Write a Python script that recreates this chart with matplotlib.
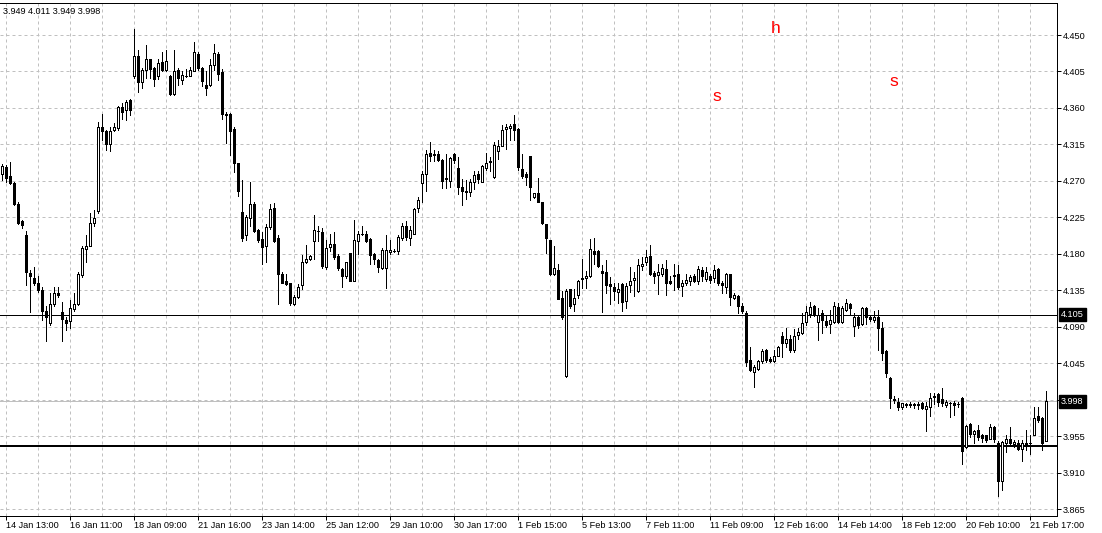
import matplotlib
matplotlib.use("Agg")
import matplotlib.pyplot as plt
import matplotlib.transforms as mtransforms

plt.rcParams['font.family'] = ['Liberation Sans', 'DejaVu Sans']

# ---------------- data (OHLC per bar) ----------------
open_ = [
    4.279, 4.287, 4.276, 4.267, 4.241, 4.220, 4.203, 4.156, 4.150, 4.144,
    4.135, 4.109, 4.094, 4.118, 4.131, 4.108, 4.098, 4.097, 4.112, 4.118,
    4.154, 4.186, 4.190, 4.218, 4.233, 4.336, 4.331, 4.316, 4.333, 4.335,
    4.361, 4.357, 4.370, 4.399, 4.424, 4.392, 4.407, 4.420, 4.409, 4.399,
    4.417, 4.407, 4.399, 4.377, 4.407, 4.394, 4.399, 4.399, 4.406, 4.427,
    4.409, 4.388, 4.388, 4.413, 4.426, 4.404, 4.353, 4.353, 4.334, 4.292,
    4.231, 4.203, 4.224, 4.242, 4.209, 4.198, 4.189, 4.213, 4.236, 4.199,
    4.155, 4.146, 4.144, 4.118, 4.127, 4.141, 4.170, 4.174, 4.196, 4.208,
    4.207, 4.164, 4.188, 4.192, 4.177, 4.161, 4.153, 4.181, 4.147, 4.196,
    4.204, 4.205, 4.198, 4.180, 4.172, 4.162, 4.162, 4.182, 4.184, 4.184,
    4.200, 4.214, 4.200, 4.205, 4.236, 4.267, 4.279, 4.305, 4.302, 4.303,
    4.296, 4.272, 4.270, 4.303, 4.286, 4.262, 4.258, 4.256, 4.269, 4.278,
    4.269, 4.286, 4.293, 4.275, 4.307, 4.313, 4.334, 4.335, 4.340, 4.334,
    4.285, 4.279, 4.301, 4.250, 4.255, 4.244, 4.217, 4.197, 4.155, 4.160,
    4.125, 4.029, 4.136, 4.118, 4.129, 4.149, 4.150, 4.152, 4.183, 4.184,
    4.159, 4.158, 4.143, 4.139, 4.133, 4.143, 4.122, 4.141, 4.148, 4.134,
    4.165, 4.170, 4.177, 4.156, 4.154, 4.155, 4.161, 4.146, 4.153, 4.155,
    4.140, 4.144, 4.147, 4.153, 4.146, 4.160, 4.149, 4.153, 4.150, 4.161,
    4.144, 4.139, 4.155, 4.126, 4.128, 4.116, 4.107, 4.049, 4.034, 4.038,
    4.048, 4.061, 4.050, 4.048, 4.054, 4.079, 4.070, 4.075, 4.061, 4.080,
    4.082, 4.096, 4.106, 4.116, 4.096, 4.107, 4.097, 4.093, 4.096, 4.114,
    4.096, 4.111, 4.118, 4.091, 4.102, 4.093, 4.113, 4.102, 4.098, 4.102,
    4.088, 4.060, 4.027, 4.001, 3.997, 3.991, 3.995, 3.994, 3.995, 3.994,
    3.996, 3.988, 3.991, 4.005, 4.007, 4.001, 3.993, 3.996, 3.996, 3.995,
    4.002, 3.941, 3.970, 3.957, 3.963, 3.956, 3.956, 3.952, 3.966, 3.947,
    3.900, 3.947, 3.952, 3.945, 3.946, 3.939, 3.947, 3.946, 3.956, 3.980,
    3.977, 3.949,
]
high = [
    4.291, 4.290, 4.293, 4.268, 4.244, 4.222, 4.208, 4.160, 4.164, 4.153,
    4.139, 4.115, 4.131, 4.139, 4.139, 4.121, 4.102, 4.123, 4.131, 4.158,
    4.190, 4.203, 4.230, 4.234, 4.343, 4.353, 4.333, 4.337, 4.342, 4.362,
    4.366, 4.370, 4.371, 4.458, 4.432, 4.409, 4.438, 4.421, 4.411, 4.420,
    4.429, 4.431, 4.401, 4.432, 4.409, 4.405, 4.408, 4.411, 4.441, 4.429,
    4.411, 4.405, 4.421, 4.439, 4.429, 4.408, 4.355, 4.354, 4.337, 4.292,
    4.271, 4.228, 4.269, 4.244, 4.211, 4.207, 4.217, 4.242, 4.243, 4.203,
    4.158, 4.155, 4.144, 4.129, 4.143, 4.178, 4.191, 4.179, 4.228, 4.214,
    4.212, 4.197, 4.205, 4.207, 4.180, 4.162, 4.170, 4.181, 4.222, 4.208,
    4.214, 4.208, 4.200, 4.181, 4.173, 4.187, 4.203, 4.197, 4.186, 4.203,
    4.218, 4.220, 4.214, 4.237, 4.250, 4.282, 4.308, 4.318, 4.308, 4.307,
    4.297, 4.303, 4.300, 4.304, 4.300, 4.272, 4.271, 4.272, 4.282, 4.282,
    4.290, 4.304, 4.300, 4.318, 4.320, 4.339, 4.340, 4.340, 4.351, 4.335,
    4.303, 4.281, 4.301, 4.255, 4.274, 4.244, 4.217, 4.197, 4.190, 4.167,
    4.134, 4.137, 4.137, 4.136, 4.148, 4.174, 4.159, 4.198, 4.200, 4.185,
    4.166, 4.172, 4.151, 4.144, 4.144, 4.144, 4.144, 4.164, 4.158, 4.173,
    4.176, 4.185, 4.191, 4.159, 4.168, 4.168, 4.172, 4.153, 4.168, 4.166,
    4.148, 4.155, 4.154, 4.155, 4.165, 4.164, 4.164, 4.155, 4.166, 4.162,
    4.147, 4.156, 4.155, 4.131, 4.129, 4.119, 4.109, 4.065, 4.043, 4.049,
    4.063, 4.063, 4.053, 4.061, 4.066, 4.084, 4.089, 4.080, 4.087, 4.088,
    4.107, 4.115, 4.120, 4.117, 4.113, 4.111, 4.105, 4.111, 4.120, 4.119,
    4.115, 4.124, 4.119, 4.107, 4.103, 4.114, 4.114, 4.104, 4.109, 4.111,
    4.096, 4.061, 4.028, 4.004, 4.002, 3.996, 3.996, 3.997, 3.996, 3.997,
    3.997, 3.997, 4.008, 4.008, 4.008, 4.014, 4.000, 3.997, 3.998, 3.997,
    4.003, 3.969, 3.971, 3.963, 3.969, 3.957, 3.956, 3.970, 3.967, 3.949,
    3.949, 3.956, 3.966, 3.950, 3.950, 3.950, 3.962, 3.956, 3.991, 3.991,
    3.978, 4.011,
]
low = [
    4.271, 4.269, 4.266, 4.240, 4.217, 4.212, 4.141, 4.108, 4.142, 4.133,
    4.098, 4.072, 4.092, 4.116, 4.127, 4.072, 4.086, 4.088, 4.109, 4.117,
    4.151, 4.170, 4.189, 4.214, 4.230, 4.320, 4.308, 4.307, 4.331, 4.333,
    4.346, 4.345, 4.351, 4.397, 4.380, 4.384, 4.397, 4.397, 4.387, 4.396,
    4.405, 4.405, 4.376, 4.376, 4.388, 4.390, 4.398, 4.399, 4.405, 4.407,
    4.387, 4.376, 4.387, 4.407, 4.395, 4.346, 4.317, 4.302, 4.281, 4.251,
    4.196, 4.197, 4.214, 4.207, 4.195, 4.167, 4.170, 4.211, 4.195, 4.118,
    4.144, 4.141, 4.117, 4.117, 4.126, 4.136, 4.169, 4.172, 4.173, 4.196,
    4.163, 4.161, 4.184, 4.174, 4.160, 4.139, 4.150, 4.146, 4.146, 4.180,
    4.203, 4.195, 4.167, 4.168, 4.158, 4.161, 4.138, 4.180, 4.182, 4.180,
    4.197, 4.197, 4.191, 4.205, 4.231, 4.244, 4.257, 4.294, 4.295, 4.294,
    4.261, 4.261, 4.263, 4.292, 4.254, 4.240, 4.248, 4.251, 4.260, 4.267,
    4.268, 4.283, 4.282, 4.274, 4.297, 4.313, 4.309, 4.320, 4.320, 4.283,
    4.273, 4.265, 4.246, 4.249, 4.244, 4.217, 4.181, 4.154, 4.154, 4.124,
    4.100, 4.028, 4.113, 4.109, 4.126, 4.138, 4.138, 4.151, 4.167, 4.164,
    4.108, 4.131, 4.118, 4.123, 4.119, 4.109, 4.113, 4.133, 4.128, 4.133,
    4.160, 4.166, 4.154, 4.144, 4.130, 4.152, 4.129, 4.143, 4.135, 4.137,
    4.128, 4.142, 4.142, 4.145, 4.143, 4.146, 4.146, 4.144, 4.145, 4.141,
    4.131, 4.131, 4.117, 4.124, 4.107, 4.107, 4.041, 4.035, 4.016, 4.037,
    4.045, 4.046, 4.047, 4.047, 4.054, 4.053, 4.065, 4.059, 4.059, 4.075,
    4.081, 4.092, 4.102, 4.103, 4.073, 4.082, 4.090, 4.082, 4.095, 4.095,
    4.095, 4.110, 4.105, 4.078, 4.088, 4.092, 4.093, 4.097, 4.096, 4.061,
    4.049, 4.028, 3.990, 3.996, 3.987, 3.989, 3.991, 3.991, 3.990, 3.989,
    3.989, 3.961, 3.980, 3.995, 3.992, 3.992, 3.991, 3.978, 3.981, 3.991,
    3.920, 3.940, 3.954, 3.947, 3.950, 3.948, 3.948, 3.951, 3.948, 3.881,
    3.889, 3.936, 3.945, 3.941, 3.938, 3.924, 3.938, 3.933, 3.956, 3.973,
    3.938, 3.949,
]
close = [
    4.288, 4.273, 4.267, 4.241, 4.218, 4.216, 4.158, 4.152, 4.144, 4.135,
    4.110, 4.102, 4.118, 4.132, 4.129, 4.099, 4.094, 4.113, 4.118, 4.155,
    4.187, 4.189, 4.218, 4.224, 4.337, 4.332, 4.316, 4.331, 4.336, 4.361,
    4.355, 4.367, 4.358, 4.424, 4.392, 4.407, 4.420, 4.408, 4.396, 4.415,
    4.407, 4.418, 4.377, 4.406, 4.397, 4.401, 4.400, 4.407, 4.429, 4.409,
    4.393, 4.385, 4.413, 4.428, 4.402, 4.353, 4.351, 4.332, 4.292, 4.257,
    4.200, 4.225, 4.242, 4.208, 4.197, 4.188, 4.213, 4.235, 4.196, 4.155,
    4.144, 4.143, 4.119, 4.127, 4.139, 4.170, 4.174, 4.177, 4.209, 4.208,
    4.165, 4.187, 4.192, 4.176, 4.162, 4.153, 4.170, 4.147, 4.197, 4.205,
    4.205, 4.196, 4.178, 4.173, 4.164, 4.185, 4.185, 4.185, 4.183, 4.201,
    4.214, 4.201, 4.209, 4.235, 4.246, 4.279, 4.303, 4.301, 4.303, 4.296,
    4.270, 4.273, 4.298, 4.296, 4.262, 4.258, 4.256, 4.269, 4.277, 4.272,
    4.288, 4.292, 4.294, 4.314, 4.313, 4.333, 4.336, 4.338, 4.333, 4.287,
    4.276, 4.275, 4.263, 4.255, 4.244, 4.218, 4.199, 4.155, 4.163, 4.124,
    4.102, 4.134, 4.116, 4.126, 4.146, 4.150, 4.153, 4.186, 4.180, 4.165,
    4.156, 4.141, 4.140, 4.134, 4.137, 4.121, 4.140, 4.146, 4.150, 4.166,
    4.168, 4.176, 4.155, 4.152, 4.157, 4.162, 4.144, 4.144, 4.154, 4.139,
    4.144, 4.148, 4.151, 4.146, 4.161, 4.152, 4.158, 4.148, 4.160, 4.144,
    4.142, 4.155, 4.127, 4.129, 4.115, 4.110, 4.047, 4.037, 4.040, 4.048,
    4.060, 4.049, 4.048, 4.054, 4.065, 4.070, 4.075, 4.061, 4.079, 4.083,
    4.095, 4.108, 4.114, 4.105, 4.105, 4.098, 4.092, 4.098, 4.116, 4.096,
    4.113, 4.119, 4.113, 4.102, 4.092, 4.113, 4.102, 4.099, 4.102, 4.088,
    4.058, 4.033, 4.002, 3.999, 3.991, 3.996, 3.994, 3.995, 3.994, 3.995,
    3.990, 3.992, 4.002, 4.003, 3.997, 3.996, 3.997, 3.996, 3.994, 3.995,
    3.937, 3.968, 3.957, 3.961, 3.954, 3.953, 3.950, 3.966, 3.952, 3.900,
    3.948, 3.952, 3.947, 3.948, 3.939, 3.947, 3.943, 3.947, 3.977, 3.975,
    3.947, 3.998,
]

time_labels = [
    "14 Jan 13:00", "16 Jan 11:00", "18 Jan 09:00", "21 Jan 16:00",
    "23 Jan 14:00", "25 Jan 12:00", "29 Jan 10:00", "30 Jan 17:00",
    "1 Feb 15:00", "5 Feb 13:00", "7 Feb 11:00", "11 Feb 09:00",
    "12 Feb 16:00", "14 Feb 14:00", "18 Feb 12:00", "20 Feb 10:00",
    "21 Feb 17:00",
]
price_levels = [4.450, 4.405, 4.360, 4.315, 4.270, 4.225, 4.180, 4.135,
                4.090, 4.045, 4.000, 3.955, 3.910, 3.865]
hline_price = 4.105
thick_line_price = 3.943
last_price = 3.998
header_text = "3.949 4.011 3.949 3.998"
pattern_marks = ["h", "s", "s"]
pattern_bar = [193.4, 178.5, 222.8]
pattern_price = [4.4525, 4.3686, 4.3871]

# ---------------- figure ----------------
W, H = 1102, 533
fig = plt.figure(figsize=(W / 100, H / 100), dpi=100)
fig.patch.set_facecolor("white")
ax = fig.add_axes([0, 1 - 516 / H, 1057 / W, 513 / H])
PX = 0.72  # one pixel in points

n = len(open_)
ax.set_xlim(-0.6, -0.6 + 1057 / 4)
ax.set_ylim(3.8564, 4.4895)

grid_kw = dict(color="#c0c0c0", lw=PX, ls=(0, (3, 3)), zorder=0)
for k in range(1, n + 3, 8):
    ax.axvline(k, **grid_kw)
for p in price_levels:
    ax.axhline(p, **grid_kw)

# reference lines
ax.axhline(last_price, color="#c0c0c0", lw=PX, zorder=1)
ax.axhline(hline_price, color="black", lw=PX, zorder=1)
ax.axhline(thick_line_price, color="black", lw=2 * PX, zorder=1)

# candles
xs = list(range(n))
ax.vlines(xs, low, high, color="black", lw=PX, zorder=2, antialiased=False)
bottoms = [min(o, c) for o, c in zip(open_, close)]
heights = [abs(c - o) for o, c in zip(open_, close)]
faces = ["white" if c >= o else "black" for o, c in zip(open_, close)]
ax.bar(xs, heights, bottom=bottoms, width=0.5, color=faces,
       edgecolor="black", lw=PX, zorder=3, antialiased=False)

# pattern letters
for t, bx, bp in zip(pattern_marks, pattern_bar, pattern_price):
    ax.text(bx, bp, t, color="#ff0000", fontsize=12.5, ha="center",
            va="baseline", zorder=5)

# axes styling
for s in ["top", "right", "bottom"]:
    ax.spines[s].set_color("black")
    ax.spines[s].set_linewidth(PX)
ax.spines["left"].set_visible(False)

# price scale: the 4.000 label is hidden behind the current-price box
ax.yaxis.tick_right()
ax.set_yticks(price_levels)
ax.set_yticklabels(["" if abs(p - last_price) < 0.01 else f"{p:.3f}"
                    for p in price_levels])
ax.tick_params(axis="y", direction="out", length=4 * PX, width=PX,
               pad=1.5, labelsize=6.6, colors="black")

tick_pos = [1 + 16 * k for k in range(len(time_labels))]
ax.set_xticks(tick_pos)
ax.set_xticklabels(time_labels, ha="left")
ax.tick_params(axis="x", direction="out", length=4 * PX, width=PX,
               pad=1.0, labelsize=6.6, colors="black")

# price boxes on the right
blend = mtransforms.blended_transform_factory(ax.transAxes, ax.transData)
for p in [hline_price, last_price]:
    ax.text(1 + 4 / 1057, p, f"{p:.3f}", transform=blend, ha="left",
            va="center", fontsize=6.6, color="white", clip_on=False,
            zorder=6,
            bbox=dict(boxstyle="square,pad=0.22", fc="black", ec="black"))

fig.text(3 / W, 1 - 11 / H, header_text, fontsize=6.6, ha="left",
         va="center", color="black")

fig.savefig("out.png", dpi=100, facecolor="white")
